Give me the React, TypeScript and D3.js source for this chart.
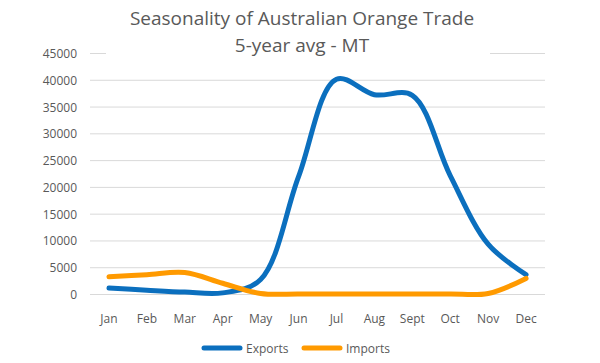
import * as d3 from "d3";
import React from "react";

const months = ["Jan", "Feb", "Mar", "Apr", "May", "Jun", "Jul", "Aug", "Sept", "Oct", "Nov", "Dec"];
const exportsMt = [1200, 800, 450, 300, 2800, 22000, 40200, 37300, 37200, 22200, 9400, 3700];
const importsMt = [3300, 3700, 4100, 2100, 200, 100, 100, 100, 100, 100, 200, 3000];
const yTickValues = [0, 5000, 10000, 15000, 20000, 25000, 30000, 35000, 40000, 45000];

const series = [
  { name: "Exports", color: "#0B6FBE", values: exportsMt },
  { name: "Imports", color: "#FF9A00", values: importsMt },
];

export default function App() {
  const width = 600;
  const height = 363;
  const font = "Open Sans, Lato, sans-serif";
  const textColor = "#595959";

  const left = 90;
  const right = 545;
  const top = 53.5;
  const bottom = 294.5;

  const x = d3.scaleBand().domain(months).range([left, right]);
  const y = d3.scaleLinear().domain([0, 45000]).range([bottom, top]);

  const line = d3
    .line<number>()
    .x((_, i) => (x(months[i]) as number) + x.bandwidth() / 2)
    .y((d) => y(d))
    .curve(d3.curveCatmullRom.alpha(0.5));

  return (
    <svg
      width={width}
      height={height}
      style={{ position: "absolute", left: 0, top: 0, background: "#fff" }}
    >
      <g>
        {yTickValues.map((t) => (
          <g key={t}>
            <line x1={left} x2={right} y1={y(t)} y2={y(t)} stroke="#D9D9D9" strokeWidth="1" />
            <text
              x={77}
              y={y(t)}
              textAnchor="end"
              dominantBaseline="central"
              fontSize="12"
              fill={textColor}
              fontFamily={font}
            >
              {t}
            </text>
          </g>
        ))}
      </g>
      {/* title box hides the top gridline, like the original */}
      <rect x={106} y={4} width={384} height={54} fill="#fff" />
      <text x={302} y={25} textAnchor="middle" fontSize="19" fill={textColor} fontFamily={font}>
        Seasonality of Australian Orange Trade
      </text>
      <text x={302} y={52} textAnchor="middle" fontSize="19" fill={textColor} fontFamily={font}>
        5-year avg - MT
      </text>
      <g>
        {months.map((m) => (
          <text
            key={m}
            x={(x(m) as number) + x.bandwidth() / 2}
            y={318}
            textAnchor="middle"
            dominantBaseline="central"
            fontSize="12"
            fill={textColor}
            fontFamily={font}
          >
            {m}
          </text>
        ))}
      </g>
      <g>
        {series.map((s) => (
          <path
            key={s.name}
            d={line(s.values) || ""}
            fill="none"
            stroke={s.color}
            strokeWidth="5"
            strokeLinecap="round"
            strokeLinejoin="round"
          />
        ))}
      </g>
      <g>
        {series.map((s, i) => {
          const lx = 204 + i * 100;
          return (
            <g key={s.name}>
              <line
                x1={lx}
                x2={lx + 36}
                y1={348}
                y2={348}
                stroke={s.color}
                strokeWidth="5"
                strokeLinecap="round"
              />
              <text
                x={lx + 42}
                y={348}
                dominantBaseline="central"
                fontSize="12"
                fill={textColor}
                fontFamily={font}
              >
                {s.name}
              </text>
            </g>
          );
        })}
      </g>
    </svg>
  );
}
